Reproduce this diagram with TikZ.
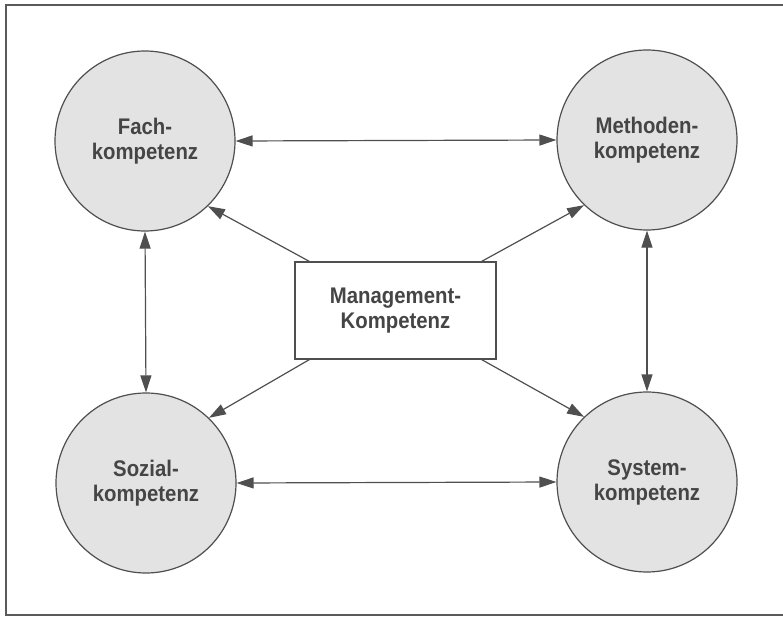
\documentclass[tikz,border=0pt]{standalone}
\usepackage{fontspec}
\setmainfont[FakeStretch=0.9]{Liberation Sans}
\usetikzlibrary{arrows.meta,calc}
\definecolor{linec}{HTML}{4F4F4F}
\definecolor{fillc}{HTML}{E3E3E3}
\definecolor{textc}{HTML}{454545}
\definecolor{framec}{HTML}{5A5A5A}
\begin{document}
\begin{tikzpicture}[x=1bp,y=-1bp,
  komp/.style={circle,draw=linec,line width=1.2bp,fill=fillc,minimum size=180bp,inner sep=0pt,
    align=center,text=textc,font=\fontsize{22.6bp}{25bp}\selectfont\bfseries},
  mbox/.style={rectangle,draw=linec,line width=1.1bp,fill=white,minimum width=201bp,minimum height=97bp,
    inner sep=0pt,align=center,text=textc,font=\fontsize{22.6bp}{25bp}\selectfont\bfseries},
  arr/.style={draw=linec,line width=1.2bp,-{Triangle[length=17bp,width=11bp]}},
  darr/.style={draw=linec,line width=1.2bp,{Triangle[length=17bp,width=11bp]}-{Triangle[length=17bp,width=11bp]}},
  frame/.style={draw=framec,line width=1.6bp}]
\useasboundingbox (0,0) rectangle (783,618);
\draw[frame] (790,5) -- (6,5) -- (6,615) -- (790,615);
\node[komp] (fach) at (145,141) {Fach-\\kompetenz};
\node[komp] (meth) at (647,140) {Methoden-\\kompetenz};
\node[komp] (soz) at (146,483) {Sozial-\\kompetenz};
\node[komp] (sys) at (647,482) {System-\\kompetenz};
\node[mbox] (mgmt) at (395.5,310.5) {Management-\\Kompetenz};
\coordinate (mnw) at ($(mgmt.north west)+(15,0)$);
\coordinate (mne) at ($(mgmt.north east)+(-15,0)$);
\coordinate (msw) at ($(mgmt.south west)+(15,0)$);
\coordinate (mse) at ($(mgmt.south east)+(-15,0)$);
\draw[darr] (fach.east) -- (meth.west);
\draw[darr] (soz.east) -- (sys.west);
\draw[darr] (fach.south) -- (soz.north);
\draw[darr] (meth.south) -- (sys.north);
\draw[arr] (mnw) -- (fach.-46);
\draw[arr] (mne) -- (meth.-134);
\draw[arr] (msw) -- (soz.46);
\draw[arr] (mse) -- (sys.134);
\end{tikzpicture}
\end{document}
